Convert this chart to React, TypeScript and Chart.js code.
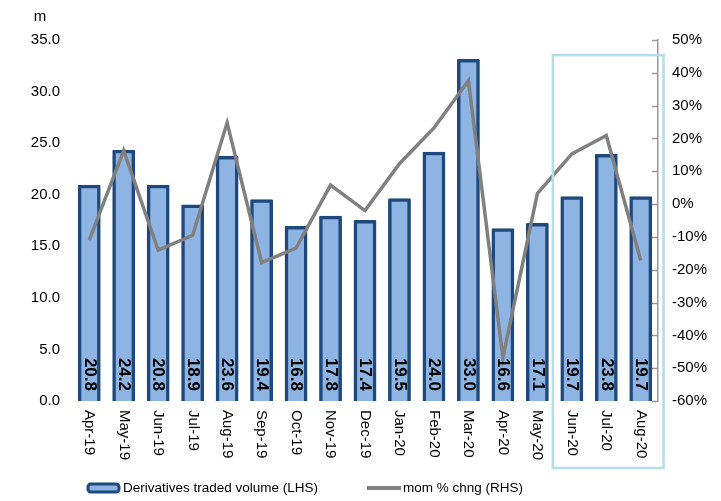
import React, { useEffect, useRef } from "react";
import { Chart, registerables } from "chart.js";

Chart.register(...registerables);

const categories = [
  "Apr-19", "May-19", "Jun-19", "Jul-19", "Aug-19", "Sep-19", "Oct-19", "Nov-19", "Dec-19",
  "Jan-20", "Feb-20", "Mar-20", "Apr-20", "May-20", "Jun-20", "Jul-20", "Aug-20",
];
const volume = [20.8, 24.2, 20.8, 18.9, 23.6, 19.4, 16.8, 17.8, 17.4, 19.5, 24.0, 33.0, 16.6, 17.1, 19.7, 23.8, 19.7];
const momChange = [-11, 16.3, -14, -9.5, 24.8, -17.8, -13.4, 5.8, -2, 12.3, 23.2, 37.6, -46.8, 3.2, 15.3, 20.9, -17.2];
const leftTicks = [0, 5, 10, 15, 20, 25, 30, 35];
const rightTicks = [-60, -50, -40, -30, -20, -10, 0, 10, 20, 30, 40, 50];
const highlightFrom = "Jun-20";
const highlightTo = "Aug-20";
const legendLabels = ["Derivatives traded volume (LHS)", "mom % chng (RHS)"];
const unitLabel = "m";

const FONT = "'Liberation Sans', Arial, sans-serif";
const BAR_FILL = "#8EB4E3";
const BAR_BORDER = "#1F497D";
const LINE_COLOR = "#808080";
const HIGHLIGHT = "#B4DDE7";

const overlayPlugin = {
  id: "overlay",
  afterDatasetsDraw(chart: any) {
    const ctx = chart.ctx;
    const x = chart.scales.x;
    const y = chart.scales.y;
    const yr = chart.scales.yR;
    const area = chart.chartArea;
    ctx.save();
    // right axis tick marks (inside)
    ctx.strokeStyle = "#999";
    ctx.lineWidth = 1.5;
    rightTicks.forEach((t) => {
      const py = Math.round(yr.getPixelForValue(t)) + 0.5;
      ctx.beginPath();
      ctx.moveTo(area.right - 6, py);
      ctx.lineTo(area.right, py);
      ctx.stroke();
    });
    // bar value labels
    ctx.fillStyle = "#000";
    ctx.font = `bold 17px ${FONT}`;
    ctx.textAlign = "right";
    ctx.textBaseline = "middle";
    volume.forEach((v, i) => {
      const cx = x.getPixelForValue(i);
      ctx.save();
      ctx.translate(cx, y.getPixelForValue(0) - 10);
      ctx.rotate(Math.PI / 2);
      ctx.fillText(v.toFixed(1), 0, 0);
      ctx.restore();
    });
    // x labels
    ctx.font = `15px ${FONT}`;
    ctx.textAlign = "left";
    categories.forEach((c, i) => {
      const cx = x.getPixelForValue(i);
      ctx.save();
      ctx.translate(cx, area.bottom + 9);
      ctx.rotate(Math.PI / 2);
      ctx.fillText(c, 0, 0);
      ctx.restore();
    });
    // highlight box
    const i0 = categories.indexOf(highlightFrom);
    const i1 = categories.indexOf(highlightTo);
    const cw = x.getPixelForValue(1) - x.getPixelForValue(0);
    const bx0 = x.getPixelForValue(i0) - cw * 0.55;
    const bx1 = x.getPixelForValue(i1) + cw * 0.66;
    const by0 = yr.getPixelForValue(45.4);
    const by1 = area.bottom + 67;
    ctx.strokeStyle = HIGHLIGHT;
    ctx.lineWidth = 2.5;
    ctx.strokeRect(bx0, by0, bx1 - bx0, by1 - by0);
    // unit label
    ctx.font = `15px ${FONT}`;
    ctx.textAlign = "center";
    ctx.fillText(unitLabel, 40, 17);
    // legend
    const ly = 488;
    ctx.fillStyle = BAR_FILL;
    ctx.strokeStyle = BAR_BORDER;
    ctx.lineWidth = 3;
    ctx.beginPath();
    (ctx as any).roundRect(88, ly - 4, 31, 8, 3);
    ctx.fill();
    ctx.stroke();
    ctx.fillStyle = "#000";
    ctx.textAlign = "left";
    ctx.font = `13.5px ${FONT}`;
    ctx.fillText(legendLabels[0], 123, ly);
    ctx.strokeStyle = LINE_COLOR;
    ctx.lineWidth = 4;
    ctx.beginPath();
    ctx.moveTo(367, ly);
    ctx.lineTo(401, ly);
    ctx.stroke();
    ctx.fillText(legendLabels[1], 403, ly);
    ctx.restore();
  },
};

export default function App() {
  const ref = useRef<HTMLCanvasElement>(null);
  useEffect(() => {
    if (!ref.current) return;
    const chart = new Chart(ref.current, {
      type: "bar",
      data: {
        labels: categories,
        datasets: [
          {
            type: "line",
            label: legendLabels[1],
            data: momChange,
            yAxisID: "yR",
            borderColor: LINE_COLOR,
            borderWidth: 3.5,
            pointRadius: 0,
            tension: 0,
            order: 0,
          } as any,
          {
            type: "bar",
            label: legendLabels[0],
            data: volume,
            yAxisID: "y",
            backgroundColor: BAR_FILL,
            borderColor: BAR_BORDER,
            borderWidth: 3.5,
            borderRadius: 1,
            inflateAmount: 1.6,
            barPercentage: 0.57,
            categoryPercentage: 1,
            order: 1,
          } as any,
        ],
      },
      options: {
        responsive: false,
        animation: false,
        devicePixelRatio: 1,
        layout: { padding: { top: 40, bottom: 100, left: 0, right: 0 } },
        plugins: { legend: { display: false }, tooltip: { enabled: false } },
        scales: {
          x: {
            type: "category",
            offset: true,
            grid: { display: false, drawTicks: false },
            border: { display: false },
            ticks: { display: false },
          },
          y: {
            position: "left",
            min: 0,
            max: 35,
            grid: { display: false, drawTicks: false },
            border: { display: false },
            afterBuildTicks: (s: any) => {
              s.ticks = leftTicks.map((v) => ({ value: v }));
            },
            afterFit: (s: any) => {
              s.width = 72;
            },
            ticks: {
              padding: 12,
              color: "#000",
              font: { family: FONT, size: 15 },
              callback: (v: any) => Number(v).toFixed(1),
            },
          },
          yR: {
            position: "right",
            min: -60,
            max: 50,
            grid: { display: false, drawTicks: false },
            border: { display: true, color: "#999", width: 1.5 },
            afterBuildTicks: (s: any) => {
              s.ticks = rightTicks.map((v) => ({ value: v }));
            },
            afterFit: (s: any) => {
              s.width = 63;
            },
            ticks: {
              padding: 14,
              color: "#000",
              font: { family: FONT, size: 15 },
              callback: (v: any) => `${v}%`,
            },
          },
        },
      },
      plugins: [overlayPlugin],
    });
    return () => chart.destroy();
  }, []);
  return (
    <div style={{ position: "absolute", left: 0, top: 0, width: 721, height: 501, background: "#fff" }}>
      <canvas ref={ref} width={721} height={501} style={{ display: "block" }} />
    </div>
  );
}
